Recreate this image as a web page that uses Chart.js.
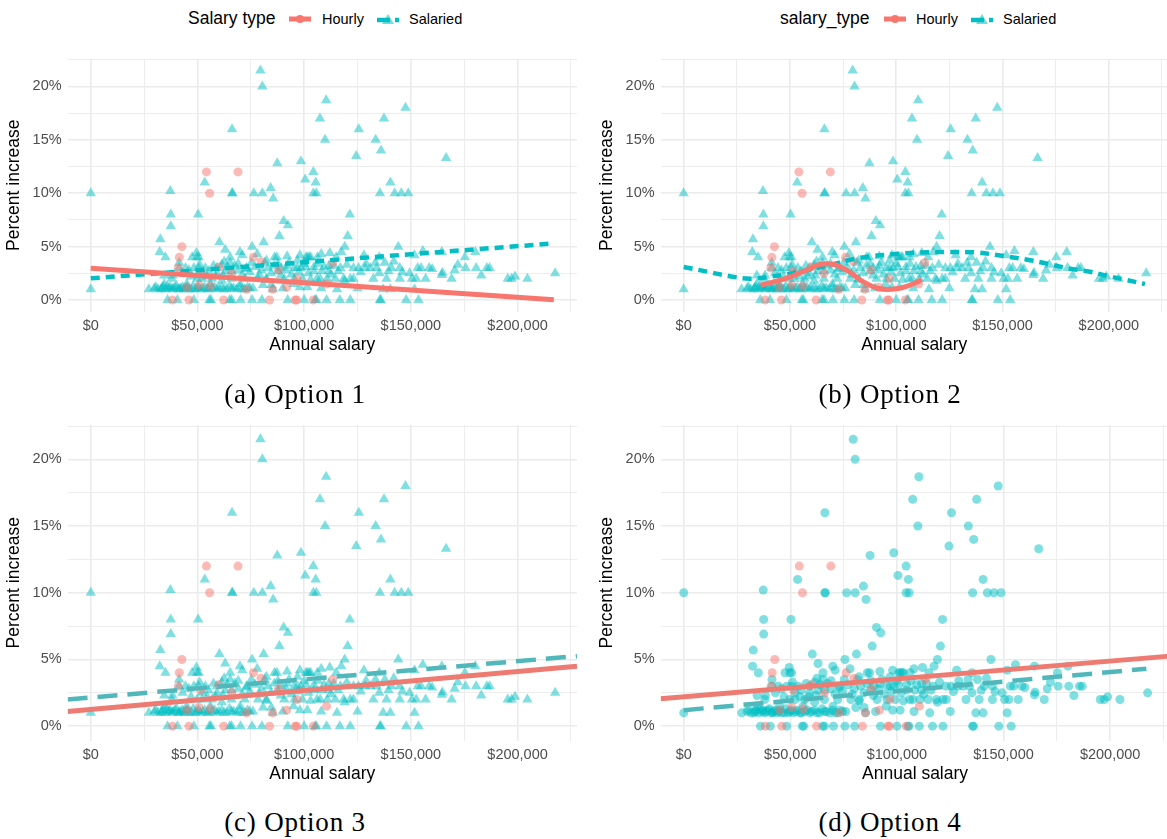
<!DOCTYPE html>
<html>
<head>
<meta charset="utf-8">
<script src="https://cdn.jsdelivr.net/npm/chart.js@4.4.0/dist/chart.umd.min.js"></script>
<style>
html, body { margin:0; padding:0; background:#fff; }
body { width:1167px; height:839px; overflow:hidden; position:relative; font-family:"Liberation Sans", Arial, sans-serif; }
canvas { position:absolute; }
.cap { position:absolute; font-family:"Liberation Serif", serif; font-size:27px; letter-spacing:0.8px; transform:translate(-50%,-50%); white-space:nowrap; color:#000; }
.lg { position:absolute; top:19px; transform:translateY(-50%); white-space:nowrap; color:#000; line-height:1; }
.lg.title { font-size:17.5px; }
.lg.lab { font-size:14.5px; }
.lg svg { display:block; }
</style>
</head>
<body>

<div class="lg title" style="left:188px">Salary type</div>
<div class="lg" style="left:289px"><svg width="22" height="14"><line x1="0" y1="7" x2="22" y2="7" stroke="#F8766D" stroke-width="5"/><circle cx="11" cy="7" r="4" fill="#F8766D"/></svg></div>
<div class="lg lab" style="left:322px">Hourly</div>
<div class="lg" style="left:377px"><svg width="22" height="14"><line x1="0" y1="8" x2="22" y2="8" stroke="#00BFC4" stroke-width="4.5" stroke-dasharray="13,5"/><polygon points="11,2 17,12 5,12" fill="#00BFC4" fill-opacity="0.55"/></svg></div>
<div class="lg lab" style="left:409px">Salaried</div>

<div class="lg title" style="left:780px">salary_type</div>
<div class="lg" style="left:884px"><svg width="22" height="14"><line x1="0" y1="7" x2="22" y2="7" stroke="#F8766D" stroke-width="5"/><circle cx="11" cy="7" r="4" fill="#F8766D"/></svg></div>
<div class="lg lab" style="left:916px">Hourly</div>
<div class="lg" style="left:971px"><svg width="22" height="14"><line x1="0" y1="8" x2="22" y2="8" stroke="#00BFC4" stroke-width="4.5" stroke-dasharray="13,5"/><polygon points="11,2 17,12 5,12" fill="#00BFC4" fill-opacity="0.55"/></svg></div>
<div class="lg lab" style="left:1003px">Salaried</div>

<canvas id="chartA" width="583" height="360" style="left:0;top:0"></canvas>
<canvas id="chartB" width="581" height="360" style="left:593px;top:0"></canvas>
<canvas id="chartC" width="583" height="423" style="left:0;top:366px"></canvas>
<canvas id="chartD" width="581" height="423" style="left:593px;top:366px"></canvas>

<div class="cap" style="left:295px;top:394px">(a) Option 1</div>
<div class="cap" style="left:890px;top:394px">(b) Option 2</div>
<div class="cap" style="left:295px;top:822px">(c) Option 3</div>
<div class="cap" style="left:890px;top:822px">(d) Option 4</div>

<script>
// Annual salary in thousands of dollars, percent increase in %
const salariedSalary = [
  0, 0, 37.3, 37.5, 37.5, 32.6, 32.3, 50.3, 53.4, 66.2, 66.2, 66.4, 76.4, 80.4, 79.5, 80.4, 84.3, 85.5, 87.4, 88.4,
  90.4, 92.4, 98.5, 100.5, 104.3, 105.4, 104.3, 105.7, 107.4, 109.8, 110.3, 121.4, 124.4, 125.6, 133.5, 135.5, 136, 137.4, 140.4, 142.4,
  145.5, 147.5, 148.8, 166.5,
  60.3, 63, 65.3, 69.9, 75.6, 81, 49.5, 50.6, 47.5, 87.2, 101.5, 103, 120.4, 119, 117.4, 115, 144.1, 155.6, 135.2, 151.7,
  175.3, 180.2, 106.2, 71, 78, 92, 98, 108, 112, 35, 128, 164.5,
  36, 40.6, 48.3, 55.6, 56.3, 65.1, 66, 70.2, 75.6, 80.2, 92.3, 100, 105.1, 105.7, 110.5, 116.7, 121.6, 135.5, 135.9, 147.8, 153.6,
  27.2, 29.8, 32.9, 34, 35.2, 36.7, 38, 39.5, 41, 42.1, 43.7, 45.2, 47.2, 49.8, 51.4, 53.4, 55.3, 56.8, 59.1, 61.4,
  63.7, 66, 68.4, 69.9, 72.2, 74.5, 85.3, 115.4, 137, 140.4, 151.7, 101.5,
  30.5, 31.5, 33.5, 35.8, 37.2, 38.6, 40.2, 41.6, 43, 44.5, 46, 48, 49, 50.5, 52.5, 54.5, 58, 60, 62.5, 65,
  67, 71, 73.5, 76, 90, 98, 108, 125,
  80.7, 82.3, 84.6, 103, 61.4, 119, 34.4, 45, 56, 70, 95,
  38, 49.8, 52.2, 56.8, 66, 72.2, 78.4, 82.3, 90.7, 95.4, 99.2, 106, 107.5, 110.8, 114.6, 118.5, 121.6, 123.1, 132.4, 138.6,
  144.8, 150.5, 152.5, 156.9, 169.1, 195.4, 197.2, 198.8, 204.6,
  34.4, 38.3, 52.2, 55.2, 59.1, 63, 66, 69.1, 73, 80, 87.7, 91.5, 104.6, 108.3, 111.6, 135.2, 149.4, 164.5, 164.8, 170.5, 217.6,
  43, 46, 47, 51, 54.5, 57.5, 58.5, 62, 64, 67.5, 71, 74.5, 77, 79, 84.5, 86, 89, 92, 94, 97.5,
  102, 106.5, 112.5, 116, 120, 126.5, 129, 139.5, 142, 146, 160, 172, 183,
  41.4, 44.4, 48.3, 50.6, 53.7, 59.1, 73, 83, 89.2, 95.4, 96.9, 98.5, 100.8, 104.6, 109.3, 111.6, 113.9, 117, 123.1, 125.5,
  128.6, 131, 134, 140.9, 144.8, 153.2, 154.8, 158.6, 175.6, 180.6, 185.6, 186.9,
  61.4, 65.3, 69.1, 81.5, 87.7, 93, 100, 41.4, 62.5, 75.3, 82.3, 96.9, 133.4, 137.8,
  86.1, 100.8, 102.3, 49.8
];
const salariedPct = [
  10, 1, 10.2, 8, 6.9, 5.7, 4.5, 8, 11, 16, 10, 10, 10, 10, 21.5, 20, 10.5, 9.5, 12.8, 6,
  7.4, 7, 13, 11.3, 12, 11, 10, 10, 17, 15, 18.7, 8, 13.5, 16, 15, 10, 14, 17, 11, 10,
  10, 18, 10, 13.3,
  5.4, 4.7, 4, 4.5, 5, 5.4, 4.4, 4, 4, 4, 4, 4, 6, 5, 4.5, 4, 5, 4.6, 4, 4.2,
  4, 4.5, 4, 4.2, 4.3, 4.1, 4.2, 4.3, 4.4, 4, 4.2, 4.5,
  0, 0, 0, 0, 0, 0, 0, 0, 0, 0, 0, 0, 0, 0, 0, 0, 0, 0, 0, 0, 0,
  1, 1.1, 1, 1.2, 1, 1.1, 1, 1.2, 1, 1.1, 1, 1.2, 1, 1.1, 1, 1.2, 1, 1.1, 1, 1.2,
  1, 1.1, 1, 1.2, 1, 1.1, 1, 1, 1, 1, 1, 1.2,
  1.2, 1, 1.1, 1.3, 1.2, 1.1, 1.3, 1, 1.2, 1.1, 1, 1.3, 1, 1.2, 1.1, 1, 1.2, 1.1, 1, 1.3,
  1.1, 1, 1.2, 1.1, 1.1, 1.2, 1.1, 1.1,
  1.4, 1.9, 1.4, 1.9, 1.8, 1.8, 1.5, 1.5, 1.5, 1.5, 1.5,
  2, 2, 2, 2, 2, 2, 2, 2, 2, 2, 2, 2, 2, 2, 2, 2, 2, 2, 2, 2,
  2, 2, 2, 2, 2, 2, 2, 2.2, 2,
  2.3, 2.3, 2.5, 2.7, 2.5, 2.7, 2.7, 2.8, 2.9, 2.8, 2.7, 2.8, 2.7, 2.7, 2.7, 2.5, 2.5, 2.35, 2.55, 2.8, 2.5,
  2.5, 2.8, 2.2, 3.3, 2.2, 3.2, 2.2, 2.3, 3.1, 3.2, 2.4, 2.6, 3.1, 2.4, 2.5, 3.2, 2.3, 3.2, 2.4, 2.6,
  2.5, 3.4, 2.4, 2.7, 3.3, 2.6, 3.4, 2.7, 3.6, 2.6, 2.9, 3.3, 2.3,
  3, 3, 3, 3, 3, 3, 3, 3, 3, 3, 3, 3, 3.1, 3.1, 3.1, 3.2, 3.2, 3, 3, 3,
  3, 3, 3, 3, 3, 3, 3, 3, 3, 3, 3, 3,
  3.3, 3.5, 3.4, 3.5, 3.4, 3.5, 3.4, 3.5, 3.6, 3.5, 3.7, 3.7, 3.5, 3.5,
  4, 4, 4, 4
];
const hourlySalary = [38.3, 46, 62.3, 83.8, 95.8, 96.5, 104.3, 41.5, 42.7, 54.2, 55.7, 69, 76.2, 79.8, 85.2, 91.8, 96.7, 110.5, 113.4, 50.7, 51.5, 60, 45, 56, 41, 66, 73, 88];
const hourlyPct    = [0, 0, 0, 0, 0, 0, 0, 4, 5, 12, 10, 12, 4, 3.6, 1.0, 1.2, 2, 1.5, 3.5, 1.4, 2.7, 3.1, 1.2, 1.3, 3, 2.5, 1, 2.8];

// fitted lines
const fitA_hourlyX = [0, 217];     const fitA_hourlyY = [2.97, 0.02];
const fitA_salariedX = [0, 217];   const fitA_salariedY = [2.03, 5.3];
const fitB_hourlyX = [36.2, 47.8, 57.8, 64.5, 71.2, 77.8, 84.5, 91.2, 97.8, 104.5, 112];
const fitB_hourlyY = [1.4, 2.0, 2.8, 3.35, 3.3, 2.65, 1.7, 1.1, 1.0, 1.25, 1.9];
const fitB_salariedX = [0, 11.2, 21.2, 31.2, 41.2, 51.2, 61.2, 71.2, 77.8, 87.8, 99.5, 111.2, 124.5, 137.8, 151.2, 161.2, 171.2, 181.2, 191.2, 199.5, 207.8, 217];
const fitB_salariedY = [3.1, 2.65, 2.25, 2.0, 2.2, 2.5, 2.95, 3.4, 3.75, 4.1, 4.3, 4.45, 4.5, 4.45, 4.1, 3.8, 3.4, 2.95, 2.65, 2.25, 1.9, 1.5];
const fitC_hourlyX = [-10.85, 227.85];   const fitC_hourlyY = [1.1, 4.5];
const fitC_salariedX = [-10.85, 227.85]; const fitC_salariedY = [2.0, 5.25];
const fitD_hourlyX = [-10.85, 227.85];   const fitD_hourlyY = [2.05, 5.25];
const fitD_salariedX = [0, 217];         const fitD_salariedY = [1.2, 4.3];

const xTicks = [0, 25, 50, 75, 100, 125, 150, 175, 200, 225];
const yTicks = [0, 2.5, 5, 7.5, 10, 12.5, 15, 17.5, 20, 22.5];

Chart.defaults.font.family = "'Liberation Sans', Arial, sans-serif";

function pts(xs, ys) {
  return xs.map((x, i) => ({ x: x, y: ys[i] }));
}

function lineSet(xs, ys, color, width, dash, tension) {
  return {
    data: pts(xs, ys), showLine: true, pointRadius: 0, borderColor: color,
    borderWidth: width, borderDash: dash, tension: tension || 0, order: 0, fill: false
  };
}

function makeChart(id, salariedShape, lines) {
  const datasets = [
    { data: pts(hourlySalary, hourlyPct), pointStyle: 'circle', pointRadius: 4.5,
      backgroundColor: 'rgba(248,118,109,0.5)', borderWidth: 0, order: 1 },
    { data: pts(salariedSalary, salariedPct), pointStyle: salariedShape,
      pointRadius: salariedShape === 'triangle' ? 6 : 4.5,
      backgroundColor: 'rgba(0,191,196,0.5)', borderWidth: 0, order: 1 }
  ].concat(lines);

  new Chart(document.getElementById(id), {
    type: 'scatter',
    data: { datasets: datasets },
    options: {
      responsive: false, animation: false, events: [],
      layout: { padding: { top: 59, left: 0, right: 0, bottom: 0 } },
      plugins: { legend: { display: false }, tooltip: { enabled: false } },
      scales: {
        x: {
          type: 'linear', min: -10.85, max: 227.85,
          afterBuildTicks: s => { s.ticks = xTicks.map(v => ({ value: v })); },
          afterFit: s => { s.height = 48.5; },
          border: { display: false },
          grid: { color: '#EBEBEB', drawTicks: false,
                  lineWidth: c => (c.tick && c.tick.value % 50 === 0) ? 1.6 : 0.9 },
          ticks: { padding: 6, color: '#4D4D4D', font: { size: 14.5 }, maxRotation: 0, autoSkip: false,
                   callback: v => v % 50 === 0 ? '$' + (v * 1000).toLocaleString('en-US') : '' },
          title: { display: true, text: 'Annual salary', color: '#000', font: { size: 17.5 }, padding: { top: 4, bottom: 4 } }
        },
        y: {
          type: 'linear', min: -1.075, max: 22.575,
          afterBuildTicks: s => { s.ticks = yTicks.map(v => ({ value: v })); },
          afterFit: s => { s.width = 67.6; },
          border: { display: false },
          grid: { color: '#EBEBEB', drawTicks: false,
                  lineWidth: c => (c.tick && c.tick.value % 5 === 0) ? 1.6 : 0.9 },
          ticks: { padding: 6, color: '#4D4D4D', font: { size: 14.5 }, autoSkip: false,
                   callback: v => v % 5 === 0 ? v + '%' : '' },
          title: { display: true, text: 'Percent increase', color: '#000', font: { size: 17.5 }, padding: { top: 4, bottom: 4 } }
        }
      }
    }
  });
}

makeChart('chartA', 'triangle', [
  lineSet(fitA_hourlyX, fitA_hourlyY, '#F8766D', 5, []),
  lineSet(fitA_salariedX, fitA_salariedY, '#00BFC4', 4.5, [9, 6])
]);
makeChart('chartB', 'triangle', [
  lineSet(fitB_hourlyX, fitB_hourlyY, '#F8766D', 5, [], 0.4),
  lineSet(fitB_salariedX, fitB_salariedY, '#00BFC4', 4.5, [9, 6], 0.4)
]);
makeChart('chartC', 'triangle', [
  lineSet(fitC_hourlyX, fitC_hourlyY, '#EE7B71', 5, []),
  lineSet(fitC_salariedX, fitC_salariedY, '#50B8BB', 4.5, [20, 10])
]);
makeChart('chartD', 'circle', [
  lineSet(fitD_hourlyX, fitD_hourlyY, '#EE7B71', 5, []),
  lineSet(fitD_salariedX, fitD_salariedY, '#50B8BB', 4.5, [20, 10])
]);
</script>
</body>
</html>
